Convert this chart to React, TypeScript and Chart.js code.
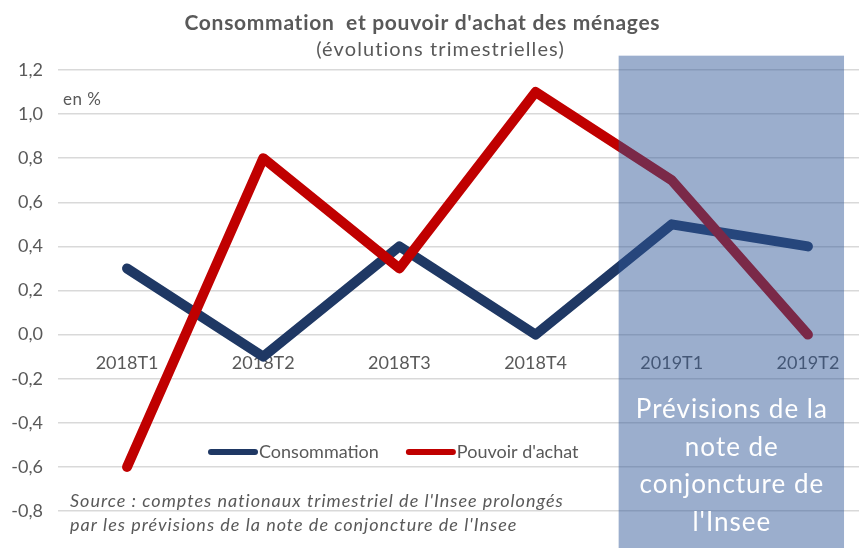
import React, { useEffect, useRef } from 'react';
import { Chart, registerables } from 'chart.js';

Chart.register(...registerables);

const categories = ['2018T1', '2018T2', '2018T3', '2018T4', '2019T1', '2019T2'];
const consommation = [0.3, -0.1, 0.4, 0.0, 0.5, 0.4];
const pouvoirAchat = [-0.6, 0.8, 0.3, 1.1, 0.7, 0.0];
const yTickValues = [-0.8, -0.6, -0.4, -0.2, 0.0, 0.2, 0.4, 0.6, 0.8, 1.0, 1.2];
const yTickLabels = ['-0,8', '-0,6', '-0,4', '-0,2', '0,0', '0,2', '0,4', '0,6', '0,8', '1,0', '1,2'];
const seriesLabels = ['Consommation', "Pouvoir d'achat"];
const titleText = "Consommation  et pouvoir d'achat des ménages";
const subtitleText = '(évolutions trimestrielles)';
const unitText = 'en %';
const sourceLines = [
  "Source : comptes nationaux trimestriel de l'Insee prolongés",
  "par les prévisions de la note de conjoncture de l'Insee",
];
const forecastLines = ['Prévisions de la', 'note de', 'conjoncture de', "l'Insee"];
// forecast zone, in x-axis units (category index)
const forecastStart = 3.61;
const forecastEnd = 5.265;
const forecastTop = 1.265;

const FONT = 'Lato, "Noto Sans", sans-serif';
const GREY = '#595959';
const BLUE = '#1F3864';
const RED = '#C00000';

function drawText(ctx: any, text: string, x: number, y: number, spacing: number) {
  ctx.letterSpacing = `${spacing}px`;
  let dx = 0;
  if (ctx.textAlign === 'center') {
    // compensate trailing spacing
    dx = spacing / 2;
  }
  ctx.fillText(text, x + dx, y);
  ctx.letterSpacing = '0px';
}

const overlayPlugin = {
  id: 'overlayPlugin',
  afterDatasetsDraw(chart: any) {
    const { ctx, scales } = chart;
    const xs = scales.x;
    const ys = scales.y;
    ctx.save();
    // forecast shaded zone
    const x0 = xs.getPixelForValue(forecastStart);
    const x1 = xs.getPixelForValue(forecastEnd);
    const y0 = ys.getPixelForValue(forecastTop);
    ctx.fillStyle = 'rgba(47,85,151,0.48)';
    ctx.fillRect(x0, y0, x1 - x0, chart.height - y0);
    // forecast text
    ctx.fillStyle = '#FFFFFF';
    ctx.font = `26px ${FONT}`;
    ctx.textAlign = 'center';
    ctx.textBaseline = 'middle';
    const cx = (x0 + x1) / 2;
    forecastLines.forEach((l, i) => drawText(ctx, l, cx, 410 + i * 37.5, 1));
    ctx.restore();
  },
  afterDraw(chart: any) {
    const { ctx } = chart;
    ctx.save();
    ctx.fillStyle = GREY;
    ctx.textBaseline = 'middle';
    ctx.textAlign = 'center';
    ctx.font = `bold 21px ${FONT}`;
    drawText(ctx, titleText, 422, 23, 0.7);
    ctx.font = `20px ${FONT}`;
    drawText(ctx, subtitleText, 440, 50, 1.1);
    ctx.textAlign = 'left';
    ctx.font = `17px ${FONT}`;
    drawText(ctx, unitText, 63, 100, 0.5);
    // legend
    ctx.font = `18px ${FONT}`;
    let lx = 211;
    const ly = 452;
    chart.data.datasets.forEach((ds: any) => {
      ctx.strokeStyle = ds.borderColor;
      ctx.lineWidth = 6;
      ctx.lineCap = 'round';
      ctx.beginPath();
      ctx.moveTo(lx, ly);
      ctx.lineTo(lx + 44, ly);
      ctx.stroke();
      ctx.fillStyle = GREY;
      ctx.fillText(ds.label, lx + 48, ly);
      lx += 48 + ctx.measureText(ds.label).width + 30;
    });
    // source
    ctx.font = `italic 18px ${FONT}`;
    sourceLines.forEach((l, i) => drawText(ctx, l, 70, 501 + i * 24, 1));
    ctx.restore();
  },
};

export default function App() {
  const ref = useRef<HTMLCanvasElement>(null);
  useEffect(() => {
    if (!ref.current) return;
    const chart = new Chart(ref.current, {
      type: 'line',
      data: {
        datasets: [
          {
            label: seriesLabels[0],
            data: consommation.map((v, i) => ({ x: i, y: v })),
            borderColor: BLUE,
            backgroundColor: BLUE,
            borderWidth: 10,
            borderCapStyle: 'round',
            borderJoinStyle: 'round',
            pointRadius: 0,
            order: 1,
          },
          {
            label: seriesLabels[1],
            data: pouvoirAchat.map((v, i) => ({ x: i, y: v })),
            borderColor: RED,
            backgroundColor: RED,
            borderWidth: 10,
            borderCapStyle: 'round',
            borderJoinStyle: 'round',
            pointRadius: 0,
            order: 0,
          },
        ],
      },
      options: {
        responsive: false,
        animation: false,
        events: [],
        layout: { padding: { top: 70, left: 0, right: 0, bottom: 37 } },
        plugins: {
          legend: { display: false },
          tooltip: { enabled: false },
          title: { display: false },
        },
        scales: {
          x: {
            type: 'linear',
            min: -0.507,
            max: 5.375,
            position: { y: 0 },
            grid: { display: false, drawTicks: false, tickLength: 0 },
            border: { display: false },
            afterBuildTicks: (s: any) => {
              s.ticks = categories.map((_, i) => ({ value: i }));
            },
            ticks: {
              autoSkip: false,
              maxRotation: 0,
              padding: 18,
              color: GREY,
              font: { family: FONT, size: 18 },
              callback: (v: any) => categories[v] ?? '',
            },
          },
          y: {
            min: -0.8,
            max: 1.2,
            grid: { color: '#D9D9D9', lineWidth: 1.5, drawTicks: false, tickLength: 0 },
            border: { display: false },
            afterBuildTicks: (s: any) => {
              s.ticks = yTickValues.map((v) => ({ value: v }));
            },
            afterFit: (s: any) => {
              s.width = 58;
            },
            ticks: {
              padding: 15,
              color: GREY,
              font: { family: FONT, size: 18 },
              callback: (_v: any, i: number) => yTickLabels[i],
            },
          },
        },
      },
      plugins: [overlayPlugin],
    } as any);
    return () => chart.destroy();
  }, []);
  return (
    <div style={{ position: 'absolute', left: 0, top: 0, width: 859, height: 548 }}>
      <canvas ref={ref} width={859} height={548} style={{ display: 'block' }} />
    </div>
  );
}
